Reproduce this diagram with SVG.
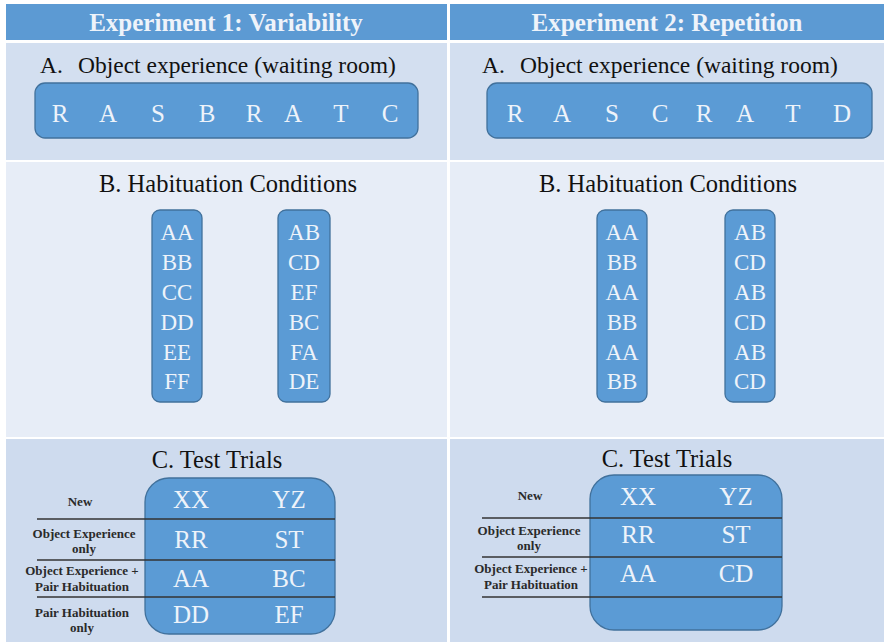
<svg xmlns="http://www.w3.org/2000/svg" width="884" height="642" viewBox="0 0 884 642" font-family="Liberation Serif, Times New Roman, serif">
<style>
text{font-family:'Liberation Serif','Times New Roman',serif;}
.hdr{fill:#5c9ad3;}
.hdrt{font-size:25px;font-weight:bold;fill:#eef3fa;text-anchor:middle;}
.bgA{fill:#d3dff0;}
.bgB{fill:#e7edf7;}
.bgC{fill:#cedbee;}
.ttl{font-size:23.5px;fill:#111;}
.ttlc{font-size:24.5px;fill:#111;text-anchor:middle;}
.box{fill:#5b9bd5;stroke:#41719c;stroke-width:1.3;}
.bt{font-size:25px;fill:#eef3fa;text-anchor:middle;}
.ct{font-size:23px;fill:#eef3fa;text-anchor:middle;}
.lbl{font-size:13px;font-weight:bold;fill:#2a2a2a;text-anchor:middle;}
.rl{stroke:#333;stroke-width:1.5;}
</style>
<rect x="0" y="0" width="884" height="642" fill="#ffffff"/>

<g id="header-exp1">
<rect class="hdr" x="6" y="4" width="441" height="36"/>
<text class="hdrt" x="226" y="31">Experiment 1: Variability</text>
</g>
<g id="header-exp2">
<rect class="hdr" x="450" y="4" width="434" height="36"/>
<text class="hdrt" x="667" y="31">Experiment 2: Repetition</text>
</g>

<g id="sectionA-exp1">
<rect class="bgA" x="6" y="43" width="441" height="117"/>
<text class="ttl" x="40" y="73">A.<tspan x="78">Object experience (waiting room)</tspan></text>
<rect class="box" x="35" y="83" width="383" height="55" rx="10"/>
<text class="bt" y="122"><tspan x="60">R</tspan><tspan x="108">A</tspan><tspan x="158">S</tspan><tspan x="207">B</tspan><tspan x="254">R</tspan><tspan x="293">A</tspan><tspan x="341">T</tspan><tspan x="390">C</tspan></text>
</g>
<g id="sectionA-exp2">
<rect class="bgA" x="450" y="43" width="434" height="117"/>
<text class="ttl" x="482" y="73">A.<tspan x="520">Object experience (waiting room)</tspan></text>
<rect class="box" x="487" y="83" width="385" height="55" rx="10"/>
<text class="bt" y="122"><tspan x="515">R</tspan><tspan x="562">A</tspan><tspan x="612">S</tspan><tspan x="660">C</tspan><tspan x="704">R</tspan><tspan x="745">A</tspan><tspan x="793">T</tspan><tspan x="842">D</tspan></text>
</g>

<g id="sectionB-exp1">
<rect class="bgB" x="6" y="162" width="441" height="275"/>
<text class="ttlc" x="228" y="192">B. Habituation Conditions</text>
<g id="habituation-same-exp1">
<rect class="box" x="152" y="210" width="50" height="192" rx="8"/>
<text class="ct" x="177"><tspan y="240">AA</tspan><tspan x="177" y="270">BB</tspan><tspan x="177" y="300">CC</tspan><tspan x="177" y="330">DD</tspan><tspan x="177" y="360">EE</tspan><tspan x="177" y="389">FF</tspan></text>
</g>
<g id="habituation-diff-exp1">
<rect class="box" x="278" y="210" width="52" height="192" rx="8"/>
<text class="ct" x="304"><tspan y="240">AB</tspan><tspan x="304" y="270">CD</tspan><tspan x="304" y="300">EF</tspan><tspan x="304" y="330">BC</tspan><tspan x="304" y="360">FA</tspan><tspan x="304" y="389">DE</tspan></text>
</g>
</g>
<g id="sectionB-exp2">
<rect class="bgB" x="450" y="162" width="434" height="275"/>
<text class="ttlc" x="668" y="192">B. Habituation Conditions</text>
<g id="habituation-same-exp2">
<rect class="box" x="597" y="210" width="50" height="192" rx="8"/>
<text class="ct" x="622"><tspan y="240">AA</tspan><tspan x="622" y="270">BB</tspan><tspan x="622" y="300">AA</tspan><tspan x="622" y="330">BB</tspan><tspan x="622" y="360">AA</tspan><tspan x="622" y="389">BB</tspan></text>
</g>
<g id="habituation-diff-exp2">
<rect class="box" x="725" y="210" width="50" height="192" rx="8"/>
<text class="ct" x="750"><tspan y="240">AB</tspan><tspan x="750" y="270">CD</tspan><tspan x="750" y="300">AB</tspan><tspan x="750" y="330">CD</tspan><tspan x="750" y="360">AB</tspan><tspan x="750" y="389">CD</tspan></text>
</g>
</g>

<g id="sectionC-exp1">
<rect class="bgC" x="6" y="439" width="441" height="203"/>
<text class="ttlc" x="217" y="468">C. Test Trials</text>
<rect class="box" x="145" y="478" width="190" height="156" rx="24"/>
<text class="bt" y="508"><tspan x="191">XX</tspan><tspan x="289">YZ</tspan></text>
<text class="bt" y="548"><tspan x="191">RR</tspan><tspan x="289">ST</tspan></text>
<text class="bt" y="587"><tspan x="191">AA</tspan><tspan x="289">BC</tspan></text>
<text class="bt" y="623"><tspan x="191">DD</tspan><tspan x="289">EF</tspan></text>
<text class="lbl" x="80" y="506">New</text>
<text class="lbl" x="84" y="538">Object Experience</text>
<text class="lbl" x="84" y="553">only</text>
<text class="lbl" x="82" y="575">Object Experience +</text>
<text class="lbl" x="82" y="591">Pair Habituation</text>
<text class="lbl" x="82" y="617">Pair Habituation</text>
<text class="lbl" x="82" y="632">only</text>
</g>
<g id="sectionC-exp2">
<rect class="bgC" x="450" y="439" width="434" height="203"/>
<text class="ttlc" x="667" y="467">C. Test Trials</text>
<rect class="box" x="590" y="475" width="192" height="155" rx="24"/>
<text class="bt" y="505"><tspan x="638">XX</tspan><tspan x="736">YZ</tspan></text>
<text class="bt" y="543"><tspan x="638">RR</tspan><tspan x="736">ST</tspan></text>
<text class="bt" y="582"><tspan x="638">AA</tspan><tspan x="736">CD</tspan></text>
<text class="lbl" x="530" y="500">New</text>
<text class="lbl" x="529" y="535">Object Experience</text>
<text class="lbl" x="529" y="550">only</text>
<text class="lbl" x="531" y="573">Object Experience +</text>
<text class="lbl" x="531" y="589">Pair Habituation</text>
</g>

<g id="connectors">
<line class="rl" x1="37" y1="519" x2="335" y2="519"/>
<line class="rl" x1="37" y1="560" x2="335" y2="560"/>
<line class="rl" x1="37" y1="597" x2="335" y2="597"/>
<line class="rl" x1="482" y1="518" x2="782" y2="518"/>
<line class="rl" x1="482" y1="557" x2="782" y2="557"/>
<line class="rl" x1="482" y1="597" x2="782" y2="597"/>
</g>
</svg>
